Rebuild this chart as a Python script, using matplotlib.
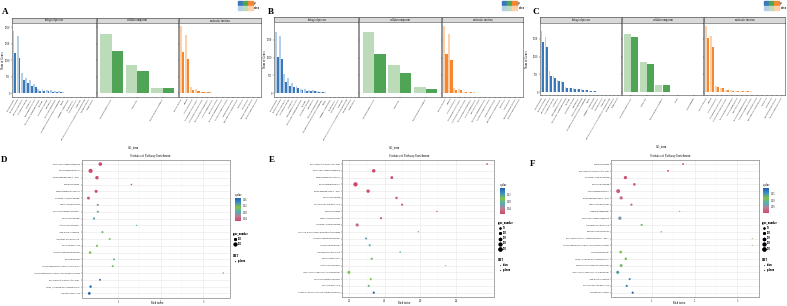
import numpy as np
import matplotlib
matplotlib.use("Agg")
import matplotlib.pyplot as plt
from matplotlib.colors import LinearSegmentedColormap
from matplotlib.patches import Patch
from matplotlib.lines import Line2D
from matplotlib.legend_handler import HandlerTuple

plt.rcParams['font.family'] = 'serif'
plt.rcParams['font.serif'] = ['Liberation Serif', 'DejaVu Serif']

W, H = 787, 306

# ---------------- GO term data ----------------
bp_terms = ['cellular process', 'metabolic process', 'biological regulation', 'response to stimulus',
            'localization', 'developmental process', 'multicellular organismal process', 'signaling',
            'reproductive process', 'reproduction', 'multi-organism process', 'interspecies interaction between organisms',
            'growth', 'immune system process', 'detoxification', 'rhythmic process', 'locomotion',
            'biological process involved in interspecies interaction', 'carbon utilization', 'pigmentation']
cc_terms = ['cellular anatomical entity', 'intracellular', 'protein-containing complex']
cc_terms_c = cc_terms + ['virion', 'other organism']
mf_terms = ['catalytic activity', 'binding', 'transporter activity', 'structural molecule activity',
            'transcription regulator activity', 'molecular function regulator', 'ATP-dependent activity',
            'antioxidant activity', 'molecular transducer activity', 'translation regulator activity',
            'cargo receptor activity', 'small molecule sensor activity', 'protein tag',
            'toxin activity', 'nutrient reservoir activity', 'metallochaperone activity']

a_bp_down = [1890, 1745, 610, 470, 390, 285, 135, 130, 105, 95, 85, 60, 35, 20, 12, 8, 5, 3, 2, 1]
a_bp_up = [1225, 1070, 410, 325, 225, 190, 85, 80, 60, 50, 55, 35, 20, 12, 8, 5, 3, 2, 1, 1]
a_cc_down = [1800, 873, 170]
a_cc_up = [1295, 672, 150]
a_mf_down = [2040, 1775, 185, 135, 55, 45, 30, 20, 15, 10, 8, 6, 4, 3, 2, 1]
a_mf_up = [1255, 1030, 105, 75, 40, 30, 20, 12, 10, 6, 5, 3, 2, 2, 1, 1]

b_bp_down = [1708, 1613, 538, 425, 302, 200, 120, 110, 95, 80, 70, 50, 30, 20, 12, 8, 5, 3, 2, 1]
b_bp_up = [1028, 972, 320, 207, 180, 150, 80, 70, 60, 55, 45, 30, 18, 10, 6, 4, 3, 2, 1, 1]
b_cc_down = [1727, 792, 170]
b_cc_up = [1094, 566, 132]
b_mf_down = [1896, 1651, 142, 123, 50, 40, 30, 20, 15, 10, 8, 5, 4, 3, 2, 1]
b_mf_up = [1104, 925, 104, 85, 35, 30, 20, 12, 10, 6, 5, 3, 2, 2, 1, 1]

c_bp_down = [1713, 1556, 583, 450, 333, 300, 140, 125, 100, 90, 80, 55, 30, 20, 12, 8, 5, 3, 2, 1]
c_bp_up = [1417, 1278, 454, 390, 306, 270, 120, 110, 90, 80, 70, 50, 25, 15, 10, 6, 4, 2, 1, 1]
c_cc_down = [1630, 843, 194, 6, 4]
c_cc_up = [1556, 796, 194, 3, 2]
c_mf_down = [1861, 1583, 157, 120, 60, 45, 40, 30, 20, 15, 10, 6, 4, 3, 2, 1]
c_mf_up = [1509, 1269, 148, 100, 55, 40, 35, 25, 15, 10, 8, 5, 3, 2, 1, 1]

facet_names = ['biological process', 'cellular component', 'molecular function']
dark_cols = ['#3b78ba', '#4fa456', '#f5872f']
light_cols = ['#b5cee8', '#bcdcb9', '#fdd0aa']

# ---------------- KEGG enrichment data ----------------
d_paths = ['Plant hormone signal transduction', 'Plant-pathogen interaction', 'MAPK signaling pathway - plant',
           'Zeatin biosynthesis', 'Phenylpropanoid biosynthesis', 'Starch and sucrose metabolism',
           'Sphingolipid metabolism', 'Terpenoid backbone biosynthesis', 'Fatty acid metabolism',
           'Isoflavonoid biosynthesis', 'Other glycan degradation', 'Arachidonic acid metabolism',
           'Ether lipid metabolism', 'Glycerophospholipid metabolism', 'Biotin metabolism',
           'Glycosphingolipid biosynthesis - ganglio series',
           'Glycosphingolipid biosynthesis - lacto and neolacto series',
           'Biosynthesis of unsaturated fatty acids', 'Valine, leucine and isoleucine degradation',
           'Glutathione metabolism']
d_rich = [0.58, 0.35, 0.50, 1.31, 0.48, 0.30, 0.52, 0.52, 0.43, 1.43, 0.63, 0.80, 0.50, 0.34, 0.90,
          0.87, 3.47, 0.57, 0.35, 0.32]
d_q = [0.022, 0.023, 0.025, 0.03, 0.028, 0.035, 0.07, 0.072, 0.078, 0.09, 0.1, 0.11, 0.108, 0.112,
       0.125, 0.12, 0.13, 0.16, 0.165, 0.171]
d_num = [160, 230, 150, 15, 110, 100, 40, 40, 50, 8, 40, 30, 40, 70, 30, 30, 8, 30, 60, 80]

e_paths = ['Biosynthesis of unsaturated fatty acids', 'Plant hormone signal transduction',
           'Phenylpropanoid biosynthesis', 'Plant-pathogen interaction', 'MAPK signaling pathway - plant',
           'Fatty acid metabolism', 'alpha-Linolenic acid metabolism', 'Zeatin biosynthesis',
           'Sphingolipid metabolism', 'Starch and sucrose metabolism',
           'Stilbenoid, diarylheptanoid and gingerol biosynthesis', 'Glycerophospholipid metabolism',
           'Glycerolipid metabolism', 'Arachidonic acid metabolism', 'Fatty acid degradation',
           'Isoflavonoid biosynthesis', 'Amino sugar and nucleotide sugar metabolism',
           'Terpenoid backbone biosynthesis', 'Ether lipid metabolism',
           'Ubiquinone and other terpenoid-quinone biosynthesis']
e_rich = [2.748, 1.478, 1.681, 1.274, 1.415, 1.733, 1.796, 2.185, 1.559, 1.293, 1.978, 1.393, 1.433,
          1.774, 1.456, 2.285, 1.2, 1.444, 1.422, 1.478]
e_q = [0.011, 0.012, 0.013, 0.011, 0.013, 0.02, 0.022, 0.025, 0.028, 0.03, 0.045, 0.065, 0.068,
       0.085, 0.09, 0.1, 0.095, 0.1, 0.11, 0.158]
e_num = [20, 150, 90, 250, 140, 60, 40, 10, 50, 120, 8, 40, 40, 15, 45, 5, 100, 40, 35, 45]

f_paths = ['Zeatin biosynthesis', 'Biosynthesis of unsaturated fatty acids', 'Starch and sucrose metabolism',
           'Fatty acid metabolism', 'Plant-pathogen interaction', 'MAPK signaling pathway - plant',
           'Sphingolipid metabolism', 'Vitamin B6 metabolism', 'Plant hormone signal transduction',
           'Arachidonic acid metabolism', 'Monoterpenoid biosynthesis',
           'Biosynthesis of various secondary metabolites - part 3',
           'Glycosphingolipid biosynthesis - lacto and neolacto series', 'Galactose metabolism',
           'Valine, leucine and isoleucine degradation', 'Pentose and glucuronate interconversions',
           'Amino sugar and nucleotide sugar metabolism', 'Other glycan degradation',
           'alpha-Linolenic acid metabolism', 'Carotenoid biosynthesis']
f_rich = [1.73, 1.38, 0.38, 0.59, 0.21, 0.28, 0.52, 1.65, 0.25, 0.76, 1.22, 3.35, 3.35, 0.27, 0.39,
          0.28, 0.20, 0.48, 0.41, 0.55]
f_q = [0.007, 0.01, 0.012, 0.015, 0.02, 0.03, 0.04, 0.05, 0.065, 0.1, 0.11, 0.12, 0.12, 0.115, 0.12,
       0.125, 0.14, 0.15, 0.16, 0.186]
f_num = [25, 25, 130, 70, 200, 120, 50, 5, 140, 40, 10, 3, 3, 80, 60, 90, 110, 40, 45, 40]

q_cmap = LinearSegmentedColormap.from_list(
    'q', ['#cc4a68', '#c27a93', '#4fb0b8', '#86c044', '#3a90c2', '#1f5fae'])


def px_axes(fig, x0, y0, x1, y1):
    return fig.add_axes([x0 / W, 1 - y1 / H, (x1 - x0) / W, (y1 - y0) / H])


def fpos(x, y):
    return x / W, 1 - y / H


def size_pts(n):
    return (0.5 + 2.6 * np.sqrt(np.asarray(n) / 250.0)) ** 2


def go_panel(fig, edges, top, strip_bot, bot, groups, yticks, letter, letter_pos, xlab_pos, ylab_x, leg_pos):
    ymax = max(max(d) for d, u, t in groups)
    for i, ((x0, x1), (down, up, terms)) in enumerate(zip(edges, groups)):
        st = px_axes(fig, x0, top, x1, strip_bot)
        st.set_facecolor('#d9d9d9')
        st.set_xticks([])
        st.set_yticks([])
        for s in st.spines.values():
            s.set_color('#333333')
            s.set_linewidth(0.4)
        st.text(0.5, 0.5, facet_names[i], fontsize=1.8, ha='center', va='center', transform=st.transAxes)

        ax = px_axes(fig, x0, strip_bot, x1, bot)
        x = np.arange(len(terms))
        w = 0.45
        ax.bar(x - w / 2, down, w, color=light_cols[i], linewidth=0)
        ax.bar(x + w / 2, up, w, color=dark_cols[i], linewidth=0)
        ax.set_xlim(-0.6, len(terms) - 0.4)
        ax.set_ylim(-0.05 * ymax, 1.05 * ymax)
        ax.set_xticks(x)
        ax.set_xticklabels(terms, rotation=60, ha='right', rotation_mode='anchor', fontsize=1.5)
        ax.set_yticks(yticks)
        if i == 0:
            ax.set_yticklabels([str(v) for v in yticks], fontsize=1.8)
        else:
            ax.set_yticklabels([])
            ax.tick_params(axis='y', length=0)
        ax.tick_params(length=1, width=0.3, pad=0.6, color='#333333')
        for s in ax.spines.values():
            s.set_color('#444444')
            s.set_linewidth(0.4)

    fig.text(*fpos(*letter_pos), letter, fontsize=6.5, fontweight='bold', ha='center', va='center')
    fig.text(*fpos(*xlab_pos), 'GO_term', fontsize=2.2, ha='center', va='center')
    fig.text(*fpos(ylab_x, (strip_bot + bot) / 2), 'Num of Genes', fontsize=2.2, rotation=90,
             ha='center', va='center')

    handles = [tuple(Patch(color=c) for c in dark_cols), tuple(Patch(color=c) for c in light_cols)]
    fig.legend(handles, ['up', 'down'], handler_map={tuple: HandlerTuple(ndivide=None, pad=0.1)},
               loc='upper left', bbox_to_anchor=fpos(*leg_pos), frameon=False, fontsize=2,
               handlelength=5.5, handleheight=1.6, labelspacing=0.35, handletextpad=0.4,
               borderpad=0, borderaxespad=0)


def dot_panel(fig, box, names, rich, q, num, vlim, xticks, xticklabels, letter, letter_pos,
              title_x, xlab_pos, cbar_box, cticks, breaks, dmt_levels, leg_x, gene_y, dmt_y):
    ax = px_axes(fig, *box)
    y = np.arange(len(names))[::-1]
    sc = ax.scatter(rich, y, s=size_pts(num), c=q, cmap=q_cmap, vmin=vlim[0], vmax=vlim[1],
                    linewidths=0, zorder=3)
    span = max(rich) - min(rich)
    ax.set_xlim(min(rich) - 0.05 * span, max(rich) + 0.05 * span)
    ax.set_ylim(-0.6, len(names) - 0.4)
    ax.set_yticks(y)
    ax.set_yticklabels(names, fontsize=1.35)
    ax.set_xticks(xticks)
    ax.set_xticklabels(xticklabels, fontsize=1.8)
    minor = [(a + b) / 2 for a, b in zip(xticks[:-1], xticks[1:])]
    ax.set_xticks(minor, minor=True)
    ax.grid(True, which='major', color='#e6e6e6', linewidth=0.4, zorder=0)
    ax.grid(True, which='minor', axis='x', color='#f2f2f2', linewidth=0.3, zorder=0)
    ax.tick_params(which='major', length=1, width=0.3, pad=0.6, color='#333333')
    ax.tick_params(which='minor', length=0)
    for s in ax.spines.values():
        s.set_color('#999999')
        s.set_linewidth(0.6)

    fig.text(*fpos(*letter_pos), letter, fontsize=6.5, fontweight='bold', ha='center', va='center')
    fig.text(*fpos(title_x, box[1] - 3.5), 'Statistics of Pathway Enrichment', fontsize=2.2,
             ha='center', va='center')
    fig.text(*fpos(*xlab_pos), 'Rich factor', fontsize=2.0, ha='center', va='center')

    cax = px_axes(fig, *cbar_box)
    cb = fig.colorbar(sc, cax=cax, ticks=cticks)
    cb.outline.set_linewidth(0)
    cax.tick_params(labelsize=1.8, length=1, width=0.3, pad=0.6, color='white')
    fig.text(*fpos(cbar_box[0], cbar_box[1] - 3), 'qvalue', fontsize=2.0, ha='left', va='center')

    gh = [Line2D([], [], ls='', marker='o', color='black', markersize=np.sqrt(size_pts(v)), markeredgewidth=0)
          for v in breaks]
    leg = fig.legend(gh, [str(v) for v in breaks], loc='upper left', bbox_to_anchor=fpos(leg_x, gene_y),
                     frameon=False, fontsize=1.8, title='gene_number', title_fontsize=2.0,
                     labelspacing=0.45, handletextpad=0.6, handlelength=1.2, borderpad=0,
                     borderaxespad=0, alignment='left')
    fig.add_artist(leg)

    dh = [Line2D([], [], ls='', marker=m, color='#444444', markersize=0.8, markeredgewidth=0)
          for m in ['^', 'o'][-len(dmt_levels):]]
    leg2 = fig.legend(dh, dmt_levels, loc='upper left', bbox_to_anchor=fpos(leg_x, dmt_y),
                      frameon=False, fontsize=1.8, title='DMT', title_fontsize=2.0,
                      labelspacing=0.45, handletextpad=0.6, handlelength=1.2, borderpad=0,
                      borderaxespad=0, alignment='left')
    fig.add_artist(leg2)


def main():
    fig = plt.figure(figsize=(W / 100, H / 100), dpi=100)

    go_panel(fig, [(12, 95.7), (96.7, 177.7), (179, 261)], 18.3, 22.7, 96.7,
             [(a_bp_down, a_bp_up, bp_terms), (a_cc_down, a_cc_up, cc_terms), (a_mf_down, a_mf_up, mf_terms)],
             [0, 500, 1000, 1500, 2000], 'A', (5.5, 11.5), (133, 147), 3, (237.5, 1))
    go_panel(fig, [(274.3, 357.7), (358.7, 441), (442.3, 523)], 17.3, 22.3, 96.7,
             [(b_bp_down, b_bp_up, bp_terms), (b_cc_down, b_cc_up, cc_terms), (b_mf_down, b_mf_up, mf_terms)],
             [0, 500, 1000, 1500], 'B', (270.7, 11.5), (395, 147), 265, (502, 1))
    go_panel(fig, [(540, 620.7), (622, 703), (704, 785)], 17.3, 22.7, 95.3,
             [(c_bp_down, c_bp_up, bp_terms), (c_cc_down, c_cc_up, cc_terms_c), (c_mf_down, c_mf_up, mf_terms)],
             [0, 500, 1000, 1500], 'C', (535.5, 11.5), (661, 146), 527, (764, 1))

    dot_panel(fig, (81.7, 160, 230, 297.5), d_paths, d_rich, d_q, d_num, (0.022, 0.171),
              [1, 2, 3], ['1', '2', '3'], 'D', (4.5, 159.5), 150, (157, 303.5),
              (235, 198, 241, 221), [0.04, 0.08, 0.12, 0.16], [100, 200], ['updown'], 233, 232, 254)
    dot_panel(fig, (342, 160, 494, 296.7), e_paths, e_rich, e_q, e_num, (0.011, 0.158),
              [1.2, 1.6, 2.0, 2.4], ['1.2', '1.6', '2.0', '2.4'], 'E', (271.5, 159.5), 409, (404, 302.5),
              (500, 188, 505, 214), [0.04, 0.08, 0.12], [50, 100, 150, 200, 250], ['down', 'updown'],
              498, 221, 258)
    dot_panel(fig, (611, 160, 759, 296.7), f_paths, f_rich, f_q, f_num, (0.007, 0.186),
              [1, 2, 3], ['1', '2', '3'], 'F', (533, 164), 670, (679, 303),
              (763, 188, 769, 213), [0.05, 0.10, 0.15], [50, 100, 150, 200, 250], ['down', 'updown'],
              762, 221, 258)

    fig.savefig('out.png', dpi=100)


if __name__ == "__main__":
    main()
